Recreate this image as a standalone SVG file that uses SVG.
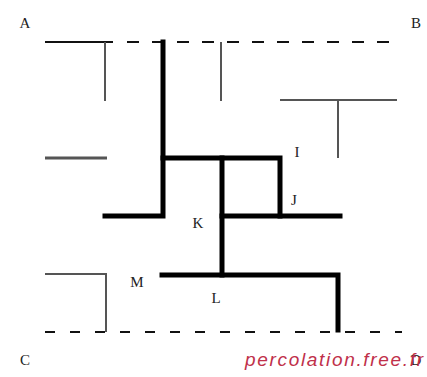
<svg xmlns="http://www.w3.org/2000/svg" width="427" height="377" viewBox="0 0 427 377">
<style>
.lbl{font-family:"Liberation Serif","Times New Roman",serif;font-size:15px;fill:#222;text-anchor:middle;dominant-baseline:central}
.thin{stroke:#555;stroke-width:2;fill:none}
.thick{stroke:#000;stroke-width:5;fill:none;stroke-linecap:square}
.edge{stroke:#111;stroke-width:2;fill:none}
.dash{stroke:#111;stroke-width:2;fill:none;stroke-dasharray:12 13}
.dash2{stroke:#111;stroke-width:2;fill:none;stroke-dasharray:10 15}
</style>
<rect width="427" height="377" fill="#fff"/>
<g id="connectors">
<line class="edge" x1="45" y1="42" x2="113" y2="42"/>
<line class="dash" x1="127" y1="42" x2="392" y2="42"/>
<line class="dash2" x1="45" y1="332" x2="402" y2="332"/>
<line class="thin" x1="105" y1="42" x2="105" y2="101"/>
<line class="thin" x1="45" y1="158" x2="107" y2="158" style="stroke-width:3"/>
<line class="thin" x1="221" y1="42" x2="221" y2="101"/>
<line class="thin" x1="280" y1="100" x2="397" y2="100"/>
<line class="thin" x1="338" y1="100" x2="338" y2="158"/>
<polyline class="thin" points="45,274 106,274 106,332"/>
<polyline class="thick" points="163,42 163,216 105,216"/>
<polyline class="thick" points="163,158 280,158 280,216"/>
<line class="thick" x1="222" y1="158" x2="222" y2="275"/>
<line class="thick" x1="222" y1="216" x2="340" y2="216"/>
<polyline class="thick" points="162,275 338,275 338,330"/>
</g>
<g id="A"><text class="lbl" x="25" y="23">A</text></g>
<g id="B"><text class="lbl" x="416" y="23">B</text></g>
<g id="C"><text class="lbl" x="25" y="360">C</text></g>
<g id="D"><text class="lbl" x="416" y="360">D</text></g>
<g id="I"><text class="lbl" x="297" y="152">I</text></g>
<g id="J"><text class="lbl" x="294" y="200">J</text></g>
<g id="K"><text class="lbl" x="198" y="223">K</text></g>
<g id="M"><text class="lbl" x="137" y="282">M</text></g>
<g id="L"><text class="lbl" x="216" y="298">L</text></g>
<g id="watermark"><text x="245" y="366" textLength="178" lengthAdjust="spacing" style="font-family:'Liberation Sans',Arial,sans-serif;font-style:italic;font-size:19px;fill:#c0304a">percolation.free.fr</text></g>
</svg>
